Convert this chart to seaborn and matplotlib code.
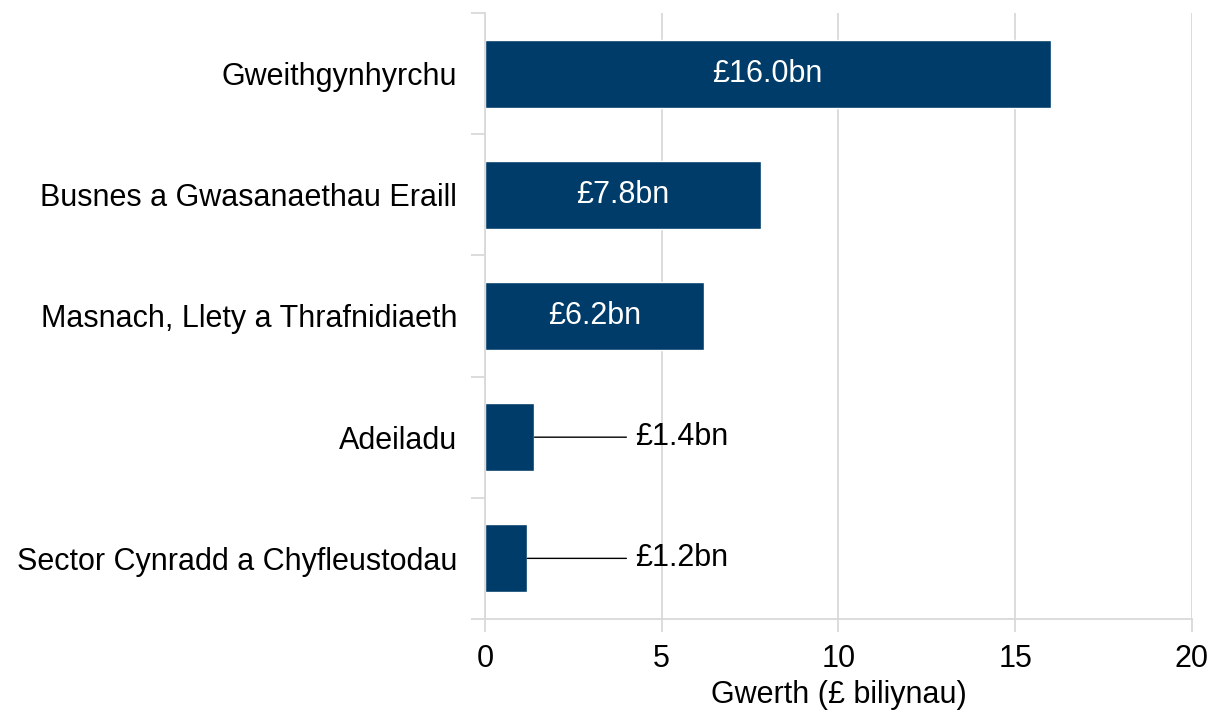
import pandas as pd
import numpy as np
import matplotlib
matplotlib.use("Agg")
import matplotlib.pyplot as plt
from matplotlib.ticker import FixedLocator
import seaborn as sns

# data
sectors = ["Gweithgynhyrchu", "Busnes a Gwasanaethau Eraill",
           "Masnach, Llety a Thrafnidiaeth", "Adeiladu",
           "Sector Cynradd a Chyfleustodau"]
values = [16.0, 7.8, 6.2, 1.4, 1.2]
labels = ["£16.0bn", "£7.8bn", "£6.2bn", "£1.4bn", "£1.2bn"]

sns.set_theme(style="white")
plt.rcParams["font.family"] = ["Liberation Sans", "DejaVu Sans"]

df = pd.DataFrame({"Sector": sectors, "Gwerth": values})

fig = plt.figure(figsize=(12.11, 7.14), dpi=100)
ax = fig.add_axes([0.4005, 0.1331, 0.5838, 0.8487])

sns.barplot(data=df, y="Sector", x="Gwerth", color="#003c69",
            saturation=1, width=0.56, ax=ax)

grid_c = "#d9d9d9"
fs = 22
ax.set_xlim(0, 20)
ax.set_ylim(len(sectors) - 0.5, -0.5)
ax.set_xticks([0, 5, 10, 15, 20])
ax.xaxis.grid(True, color=grid_c, lw=1.3)
ax.set_axisbelow(True)

for s in ["top", "right"]:
    ax.spines[s].set_visible(False)
for s in ["left", "bottom"]:
    ax.spines[s].set_color(grid_c)
    ax.spines[s].set_linewidth(1.3)

ax.tick_params(axis="x", length=9, width=1.3, color=grid_c, labelsize=fs,
               pad=9, labelcolor="black", bottom=True)
ax.tick_params(axis="y", which="major", length=0, pad=20, labelsize=fs,
               labelcolor="black")
ax.yaxis.set_minor_locator(FixedLocator(np.arange(-0.5, len(sectors), 1.0)))
ax.tick_params(axis="y", which="minor", length=10, width=1.3, color=grid_c,
               left=True)

ax.set_ylabel("")
ax.set_xlabel("Gwerth (£ biliynau)", fontsize=fs, labelpad=4, color="black")

# bar labels: inside for big bars, outside with leader line for small ones
for i, (v, lab) in enumerate(zip(values, labels)):
    if v > 3:
        ax.text(v / 2, i, lab, ha="center", va="center", color="white",
                fontsize=fs)
    else:
        ax.annotate(lab, xy=(v, i), xytext=(4.25, i),
                    ha="left", va="center", fontsize=fs, color="black",
                    arrowprops=dict(arrowstyle="-", color="black", lw=1,
                                    shrinkA=4, shrinkB=0, relpos=(0, 0.5)))

fig.savefig("out.png", dpi=100)
